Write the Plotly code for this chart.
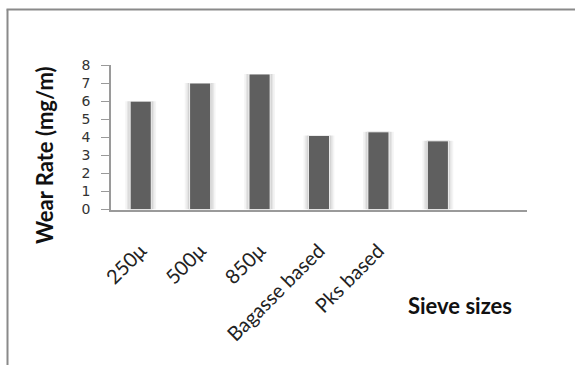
import plotly.graph_objects as go

# Wear rate of the composite samples by sieve size / filler type
categories = ["250μ", "500μ", "850μ", "Bagasse based", "Pks based", "", ""]
wear_rate = [6.0, 7.0, 7.5, 4.1, 4.3, 3.8, None]
y_ticks = [0, 1, 2, 3, 4, 5, 6, 7, 8]

W, H = 575, 365
x_pos = list(range(len(categories)))

# plot area in pixels (left, right, top, bottom)
PL, PR, PT, PB = 111, 527, 65, 209.5


def px(x):
    return x / W


def py(y):
    return 1 - y / H


fig = go.Figure()

# soft halo around each bar
for width, alpha in [(0.52, 0.045), (0.46, 0.06), (0.41, 0.08)]:
    fig.add_trace(go.Bar(
        x=x_pos, y=wear_rate, width=width,
        marker=dict(color=f"rgba(0,0,0,{alpha})", line=dict(width=0)),
        hoverinfo="skip", showlegend=False,
    ))

fig.add_trace(go.Bar(
    x=x_pos, y=wear_rate, width=0.355,
    marker=dict(color="#5f5f5f", line=dict(color="rgba(255,255,255,0.85)", width=1)),
    showlegend=False,
))

fig.update_layout(
    width=W, height=H,
    margin=dict(l=0, r=0, t=0, b=0, pad=0, autoexpand=False),
    paper_bgcolor="white", plot_bgcolor="white",
    barmode="overlay",
    font=dict(family="Lato, Open Sans, sans-serif", color="#222"),
    xaxis=dict(
        domain=[px(PL), px(PR)],
        range=[-0.5, len(categories) - 0.5],
        automargin=False,
        tickmode="array", tickvals=x_pos, ticktext=categories,
        tickangle=-45,
        ticks="outside", ticklen=20, tickcolor="rgba(0,0,0,0)",
        tickfont=dict(size=20, color="#222"),
        showline=True, linecolor="#9a9a9a", linewidth=1.5,
        showgrid=False, zeroline=False,
    ),
    yaxis=dict(
        domain=[py(PB), py(PT)],
        range=[0, 8],
        automargin=False,
        tickmode="array", tickvals=y_ticks,
        ticks="outside", ticklen=8, tickcolor="#9a9a9a", tickwidth=1,
        tickfont=dict(family="DejaVu Sans, sans-serif", size=14, color="#333"),
        ticklabelstandoff=8,
        showline=True, linecolor="#9a9a9a", linewidth=1.5,
        showgrid=False, zeroline=False,
    ),
    shapes=[
        dict(type="line", xref="paper", yref="paper",
             x0=px(7.5), x1=px(7.5), y0=py(9.5), y1=0,
             line=dict(color="#8a8a8a", width=2)),
        dict(type="line", xref="paper", yref="paper",
             x0=px(6.5), x1=1, y0=py(9.5), y1=py(9.5),
             line=dict(color="#8a8a8a", width=2)),
    ],
    annotations=[
        dict(text="<b>Wear Rate (mg/m)</b>", xref="paper", yref="paper",
             x=px(45), y=py(155), textangle=-90, showarrow=False,
             font=dict(size=22, color="#111"), xanchor="center", yanchor="middle"),
        dict(text="<b>Sieve sizes</b>", xref="paper", yref="paper",
             x=px(460), y=py(305), showarrow=False,
             font=dict(size=22, color="#111"), xanchor="center", yanchor="middle"),
    ],
)

fig.write_html("out.html")
